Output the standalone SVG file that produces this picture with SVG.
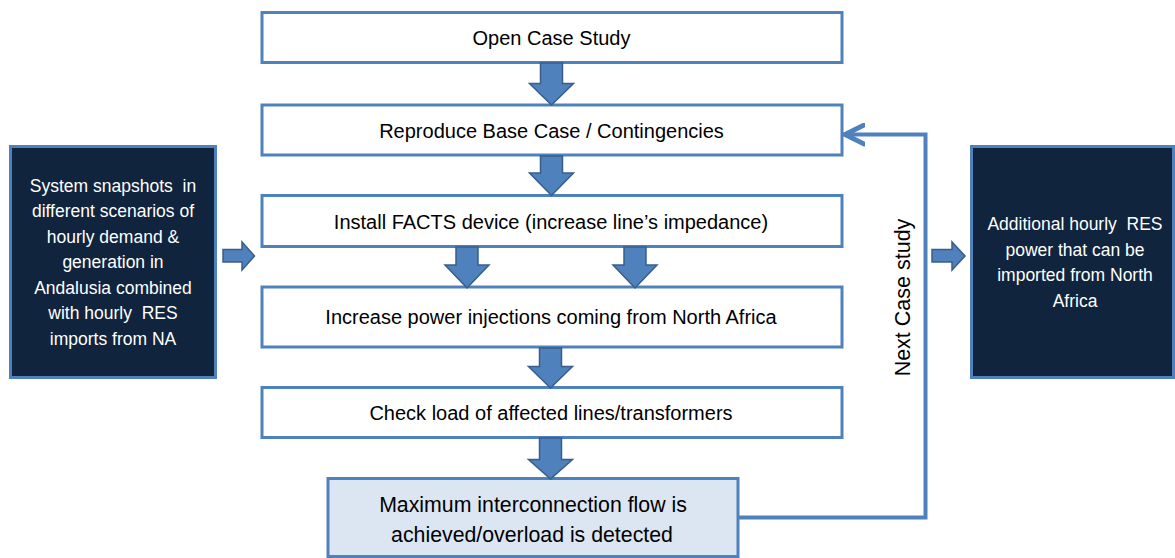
<svg xmlns="http://www.w3.org/2000/svg" width="1175" height="558" viewBox="0 0 1175 558">
<style>
.box{fill:#FFFFFF;stroke:#4F81BD;stroke-width:3}
.dark{fill:#10243E;stroke:#4F81BD;stroke-width:3}
.light{fill:#DCE6F2;stroke:#4F81BD;stroke-width:3}
.blk{fill:#4F81BD;stroke:#385D8A;stroke-width:1.5}
.t{font-family:"Liberation Sans",Arial,sans-serif;font-size:20px;fill:#000000;text-anchor:middle}
.w{font-family:"Liberation Sans",Arial,sans-serif;font-size:17.5px;fill:#FFFFFF;text-anchor:middle}
.conn{fill:none;stroke:#4F81BD;stroke-width:4}
</style>
<defs>
<marker id="chev" markerUnits="userSpaceOnUse" markerWidth="24" markerHeight="24" refX="17" refY="10" orient="auto" viewBox="0 0 20 20">
<path d="M1,2 L17,10 L1,18" fill="none" stroke="#4F81BD" stroke-width="4" stroke-linecap="round" stroke-linejoin="miter"/>
</marker>
</defs>
<g id="n1"><rect class="box" x="262" y="12.5" width="580" height="50"/><text class="t" x="551.5" y="45">Open Case Study</text></g>
<g id="n2"><rect class="box" x="262" y="105" width="580" height="50"/><text class="t" x="551.5" y="138">Reproduce Base Case / Contingencies</text></g>
<g id="n3"><rect class="box" x="262" y="195.5" width="580" height="51"/><text class="t" x="551" y="228.5">Install FACTS device (increase line’s impedance)</text></g>
<g id="n4"><rect class="box" x="262" y="287" width="580" height="60"/><text class="t" x="551" y="324">Increase power injections coming from North Africa</text></g>
<g id="n5"><rect class="box" x="262" y="387.5" width="580" height="50"/><text class="t" x="551" y="419.5">Check load of affected lines/transformers</text></g>
<g id="n6"><rect class="light" x="328" y="478.5" width="410" height="78"/><text class="t" x="533" y="511.5" style="font-size:21.3px">Maximum interconnection flow is</text><text class="t" x="532" y="541.5" style="font-size:21.3px">achieved/overload is detected</text></g>
<g id="in"><rect class="dark" x="10.5" y="146.5" width="205" height="231"/>
<text class="w" x="113" y="192" xml:space="preserve">System snapshots  in</text>
<text class="w" x="113" y="217">different scenarios of</text>
<text class="w" x="113" y="242.5">hourly demand &amp;</text>
<text class="w" x="113" y="268">generation in</text>
<text class="w" x="113" y="293.5">Andalusia combined</text>
<text class="w" x="113" y="319" xml:space="preserve">with hourly  RES</text>
<text class="w" x="113" y="344.5">imports from NA</text></g>
<g id="out"><rect class="dark" x="971.5" y="146.5" width="202" height="231"/>
<text class="w" x="1075" y="230" xml:space="preserve">Additional hourly  RES</text>
<text class="w" x="1075" y="255.5">power that can be</text>
<text class="w" x="1075" y="281">imported from North</text>
<text class="w" x="1075" y="306.5">Africa</text></g>
<g id="connectors">
<path class="blk" d="M540.5,63 H562.5 V83.5 H573.5 L551.5,105 L529.5,83.5 H540.5 Z"/>
<path class="blk" d="M540.5,156 H562.5 V173 H573.5 L551.5,195.5 L529.5,173 H540.5 Z"/>
<path class="blk" d="M456,247 H478 V265 H489 L467,288 L445,265 H456 Z"/>
<path class="blk" d="M624,247 H646 V265 H657 L635,288 L613,265 H624 Z"/>
<path class="blk" d="M539.5,348 H561.5 V366.5 H572.5 L550.5,388 L528.5,366.5 H539.5 Z"/>
<path class="blk" d="M539.5,438 H561.5 V459.5 H572.5 L550.5,479 L528.5,459.5 H539.5 Z"/>
<path class="blk" d="M223,249.5 H242 V242 L254.5,256 L242,270 V262 H223 Z"/>
<path class="blk" d="M932,249.5 H952 V242 L965,256 L952,270 V262 H932 Z"/>
<path class="conn" d="M738,517.5 H925.5 V134.5 H845" marker-end="url(#chev)"/>
<text class="t" transform="translate(910,297.5) rotate(-90)" style="font-size:21.5px">Next Case study</text>
</g>
</svg>
